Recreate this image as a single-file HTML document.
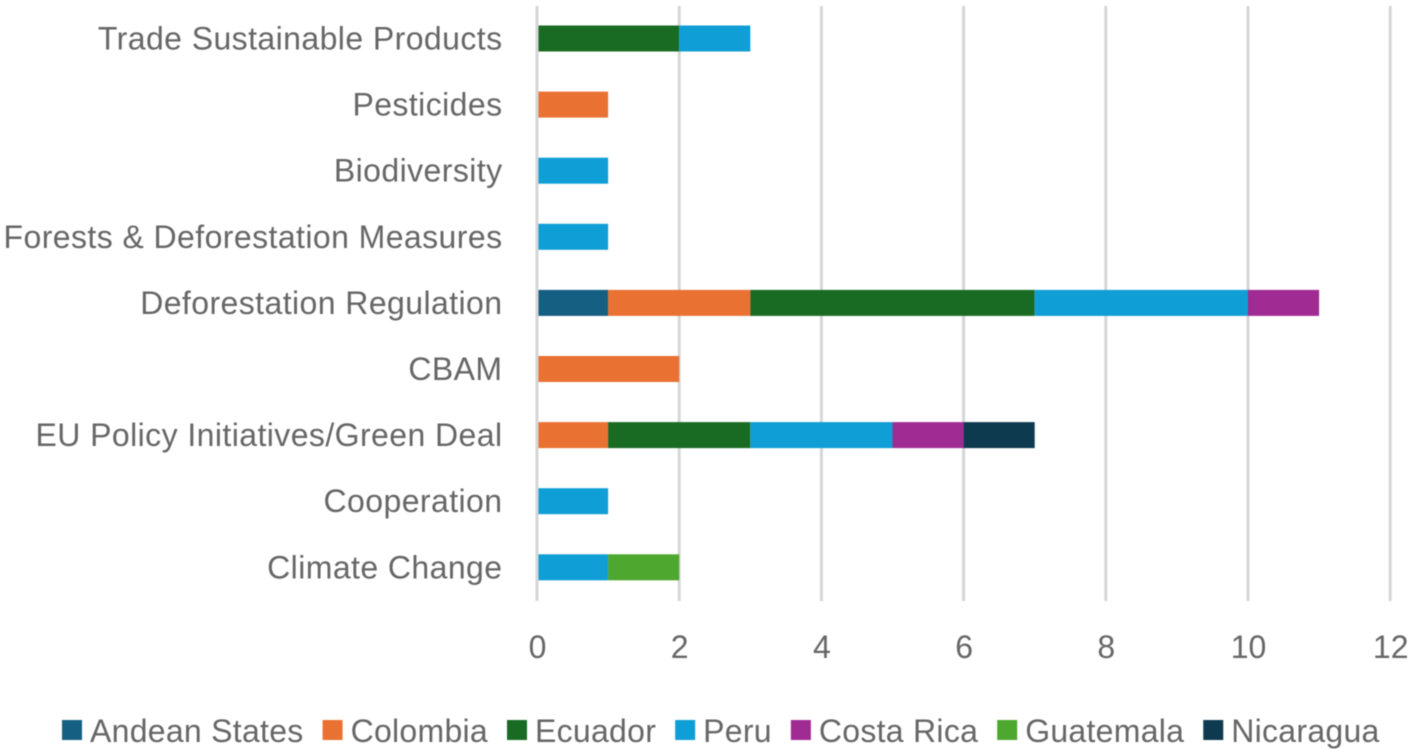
<!DOCTYPE html>
<html lang="en">
<head>
<meta charset="utf-8">
<title>Stacked bar chart of topics by country</title>
<style>
html,body{margin:0;padding:0;background:#fff;width:1418px;height:754px;overflow:hidden}
svg{display:block;filter:blur(0.45px)}
text{font-family:"Liberation Sans",sans-serif;fill:#666666;font-size:32px}
</style>
</head>
<body>
<svg id="chart" xmlns="http://www.w3.org/2000/svg" width="1418" height="754" viewBox="0 0 1418 754"></svg>
<script>
const categories = ["Trade Sustainable Products", "Pesticides", "Biodiversity", "Forests & Deforestation Measures", "Deforestation Regulation", "CBAM", "EU Policy Initiatives/Green Deal", "Cooperation", "Climate Change"];
const seriesNames = ["Andean States", "Colombia", "Ecuador", "Peru", "Costa Rica", "Guatemala", "Nicaragua"];
const seriesColors = ["#155f82", "#e97132", "#196b24", "#0f9ed5", "#a02b93", "#4ea72e", "#0e3a50"];
const andeanStates = [0, 0, 0, 0, 1, 0, 0, 0, 0];
const colombia = [0, 1, 0, 0, 2, 2, 1, 0, 0];
const ecuador = [2, 0, 0, 0, 4, 0, 2, 0, 0];
const peru = [1, 0, 1, 1, 3, 0, 2, 1, 1];
const costaRica = [0, 0, 0, 0, 1, 0, 1, 0, 0];
const guatemala = [0, 0, 0, 0, 0, 0, 0, 0, 1];
const nicaragua = [0, 0, 0, 0, 0, 0, 1, 0, 0];
const xTicks = [0, 2, 4, 6, 8, 10, 12];

const seriesValues = [andeanStates, colombia, ecuador, peru, costaRica, guatemala, nicaragua];
const NS = "http://www.w3.org/2000/svg";
const svg = document.getElementById("chart");

function xScale(v) { return 537 + 71.1 * v; }
function yBand(i) { return 38.5 + 66.1 * i; }

function make(tag, attrs, parent) {
  const el = document.createElementNS(NS, tag);
  for (const k in attrs) el.setAttribute(k, attrs[k]);
  parent.appendChild(el);
  return el;
}

const gridGroup = make("g", {}, svg);


const barGroup = make("g", {}, svg);


const axisGroup = make("g", {}, svg);


const catGroup = make("g", {}, svg);


const legendGroup = make("g", {}, svg);



xTicks.forEach(function (t) {
  if (t !== 0) {
    const line = make("line", { x1: xScale(t), x2: xScale(t), y1: 6, y2: 601, stroke: "#d6d6d6", "stroke-width": 3 }, gridGroup);
    
    
  }
  const label = make("text", { x: xScale(t) + 0.5, y: 658, "text-anchor": "middle" }, axisGroup);
  
  
  label.textContent = t;
});

categories.forEach(function (cat, i) {
  let cum = 0;
  seriesValues.forEach(function (vals, s) {
    const v = vals[i];
    if (v > 0) {
      const rect = make("rect", { x: xScale(cum), y: yBand(i) - 13, width: xScale(cum + v) - xScale(cum), height: 26, fill: seriesColors[s] }, barGroup);
      
      
    }
    cum += v;
  });
  const label = make("text", { x: 502.5, y: yBand(i) + 11, "text-anchor": "end", "letter-spacing": "0.42" }, catGroup);
  
  
  label.textContent = cat;
});

const zeroLine = make("line", { x1: xScale(0), x2: xScale(0), y1: 6, y2: 601, stroke: "#d6d6d6", "stroke-width": 3 }, axisGroup);



let legendX = 62;
seriesNames.forEach(function (name, s) {
  const swatch = make("rect", { x: legendX, y: 720, width: 20, height: 20, fill: seriesColors[s] }, legendGroup);
  
  
  const label = make("text", { x: legendX + 28, y: 742, "letter-spacing": "0.28" }, legendGroup);
  
  
  label.textContent = name;
  legendX += 28 + label.getComputedTextLength() + 19;
});
</script>
</body>
</html>
